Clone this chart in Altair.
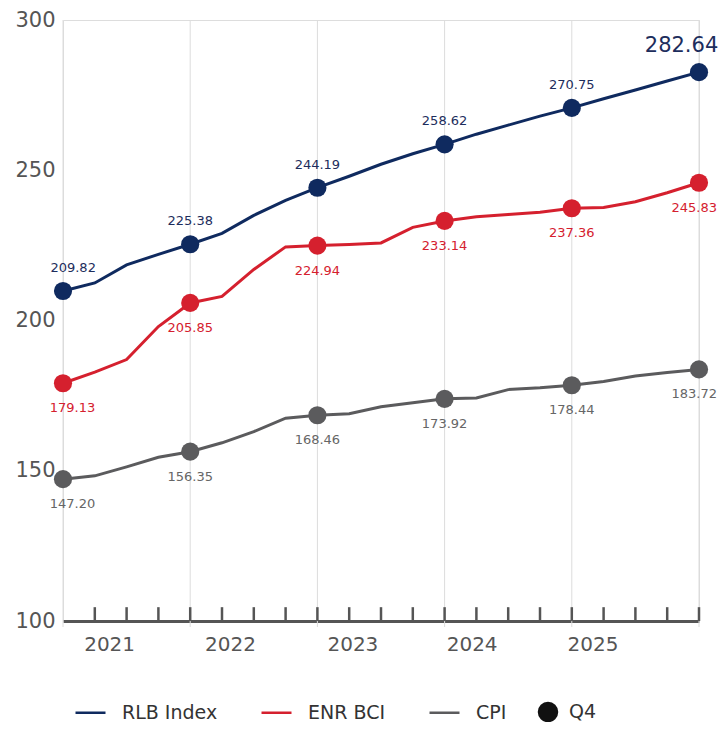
import json
import altair as alt
import pandas as pd

# ---- data ----
quarters = list(range(21))  # Q4 2020 ... Q4 2025
series_names = ["RLB Index", "ENR BCI", "CPI"]
rlb = [209.82, 212.5, 218.5, 222.0, 225.38, 229.0, 235.0, 240.0, 244.19, 248.0, 252.0,
       255.5, 258.62, 262.0, 265.0, 268.0, 270.75, 273.8, 276.7, 279.7, 282.64]
enr = [179.13, 182.8, 187.0, 198.0, 205.85, 208.0, 217.0, 224.5, 224.94, 225.3, 225.8,
       231.0, 233.14, 234.5, 235.3, 236.0, 237.36, 237.6, 239.5, 242.5, 245.83]
cpi = [147.20, 148.3, 151.3, 154.5, 156.35, 159.3, 163.0, 167.5, 168.46, 169.0, 171.3,
       172.6, 173.92, 174.2, 177.0, 177.6, 178.44, 179.7, 181.5, 182.7, 183.72]
year_labels = ["2021", "2022", "2023", "2024", "2025"]
year_pos = [1.45, 5.25, 9.1, 12.85, 16.65]
y_ticks = [100, 150, 200, 250, 300]
tick_quarters = list(range(1, 21))
grid_quarters = [0, 4, 8, 12, 16, 20]
colors = ["#0f2a5f", "#d5202e", "#5b5b5d"]

rows = []
for name, vals in zip(series_names, [rlb, enr, cpi]):
    for q, v in zip(quarters, vals):
        rows.append({"i": q, "series": name, "value": v})
df = pd.DataFrame(rows)
ticks_df = pd.DataFrame({"i": tick_quarters})
grid_df = pd.DataFrame({"i": grid_quarters})

FONT = "DejaVu Sans"
W, H = 636, 601

xscale = alt.Scale(domain=[0, 20], nice=False, zero=False)
yscale = alt.Scale(domain=[100, 300], nice=False, zero=False)
cscale = alt.Scale(domain=series_names, range=colors)

label_expr = "%s[indexof(%s, datum.value)]" % (json.dumps(year_labels), json.dumps(year_pos))

x_axis = alt.Axis(values=year_pos, labelExpr=label_expr, ticks=False, grid=False,
                  domainColor="#555555", domainWidth=3, labelFontSize=20,
                  labelColor="#555555", labelPadding=13, title=None, labelFont=FONT,
                  labelOverlap=False, labelFlush=False)
y_axis = alt.Axis(values=y_ticks, domain=False, ticks=False, grid=False, labelFontSize=21,
                  labelColor="#555555", labelPadding=8, title=None, labelFont=FONT)

base = alt.Chart(df)

grid = alt.Chart(grid_df).mark_rule(color="#dcdcdc", strokeWidth=1).encode(
    x=alt.X("i:Q", scale=xscale, axis=x_axis),
    y=alt.datum(300, scale=yscale, axis=y_axis),
    y2=alt.datum(98),
)

tick_marks = alt.Chart(ticks_df).mark_rule(color="#555555", strokeWidth=2.5).encode(
    x=alt.X("i:Q", scale=xscale),
    y=alt.datum(100),
    y2=alt.datum(104.6),
)

legend_lines = alt.Legend(title=None, orient="none", direction="horizontal",
                          legendX=11, legendY=676, symbolType="stroke",
                          symbolStrokeWidth=2.5, symbolSize=900, labelFontSize=19,
                          labelFont=FONT, labelColor="#333333", labelOffset=15,
                          columnPadding=38, padding=0)

lines = base.mark_line(strokeWidth=3).encode(
    x=alt.X("i:Q", scale=xscale),
    y=alt.Y("value:Q", scale=yscale),
    color=alt.Color("series:N", scale=cscale, legend=legend_lines),
)

points = base.transform_filter("datum.i % 4 == 0").mark_circle(size=330, opacity=1).encode(
    x=alt.X("i:Q", scale=xscale),
    y=alt.Y("value:Q", scale=yscale),
    color=alt.Color("series:N", scale=cscale, legend=legend_lines),
)

q4_legend = base.transform_filter("datum.i == 0 && datum.series == 'CPI'").transform_calculate(
    q4="'Q4'"
).mark_point(filled=True, opacity=0, size=1, color="#111111").encode(
    x=alt.X("i:Q", scale=xscale),
    y=alt.Y("value:Q", scale=yscale),
    shape=alt.Shape("q4:N", scale=alt.Scale(range=["circle"]),
                    legend=alt.Legend(title=None, orient="none", legendX=474, legendY=681,
                                      symbolSize=420, symbolFillColor="#111111",
                                      symbolStrokeColor="#111111", symbolOpacity=1,
                                      labelFontSize=19, labelFont=FONT,
                                      labelColor="#333333", labelOffset=10, padding=0)),
)


def labels(name, color, dy, lx_expr):
    return base.transform_filter(
        "datum.series == '%s' && datum.i %% 4 == 0" % name
    ).transform_calculate(lx=lx_expr).mark_text(
        color=color, fontSize=13, font=FONT, dy=dy, baseline="middle"
    ).encode(
        x=alt.X("lx:Q", scale=xscale),
        y=alt.Y("value:Q", scale=yscale),
        text=alt.Text("value:Q", format=".2f"),
    )


rlb_labels = labels("RLB Index", "#1d2d5c", -23,
                    "datum.i == 0 ? 0.32 : datum.i").transform_filter("datum.i < 20")
enr_labels = labels("ENR BCI", "#d5202e", 25,
                    "datum.i == 0 ? 0.3 : (datum.i == 20 ? 19.85 : datum.i)")
cpi_labels = labels("CPI", "#666666", 25,
                    "datum.i == 0 ? 0.3 : (datum.i == 20 ? 19.85 : datum.i)")

big_label = base.transform_filter("datum.series == 'RLB Index' && datum.i == 20").transform_calculate(
    lx="19.45"
).mark_text(color="#1d2d5c", fontSize=21, font=FONT, dy=-26, baseline="middle").encode(
    x=alt.X("lx:Q", scale=xscale),
    y=alt.Y("value:Q", scale=yscale),
    text=alt.Text("value:Q", format=".2f"),
)

chart = alt.layer(
    grid, tick_marks, lines, points, q4_legend, rlb_labels, enr_labels, cpi_labels, big_label
).properties(
    width=W, height=H,
    autosize=alt.AutoSizeParams(type="none"),
    padding={"left": 55, "top": 12, "right": 19, "bottom": 101},
).configure_view(stroke=None).configure(background="white")

chart.save("out.html", embed_options={"renderer": "svg", "actions": False})
